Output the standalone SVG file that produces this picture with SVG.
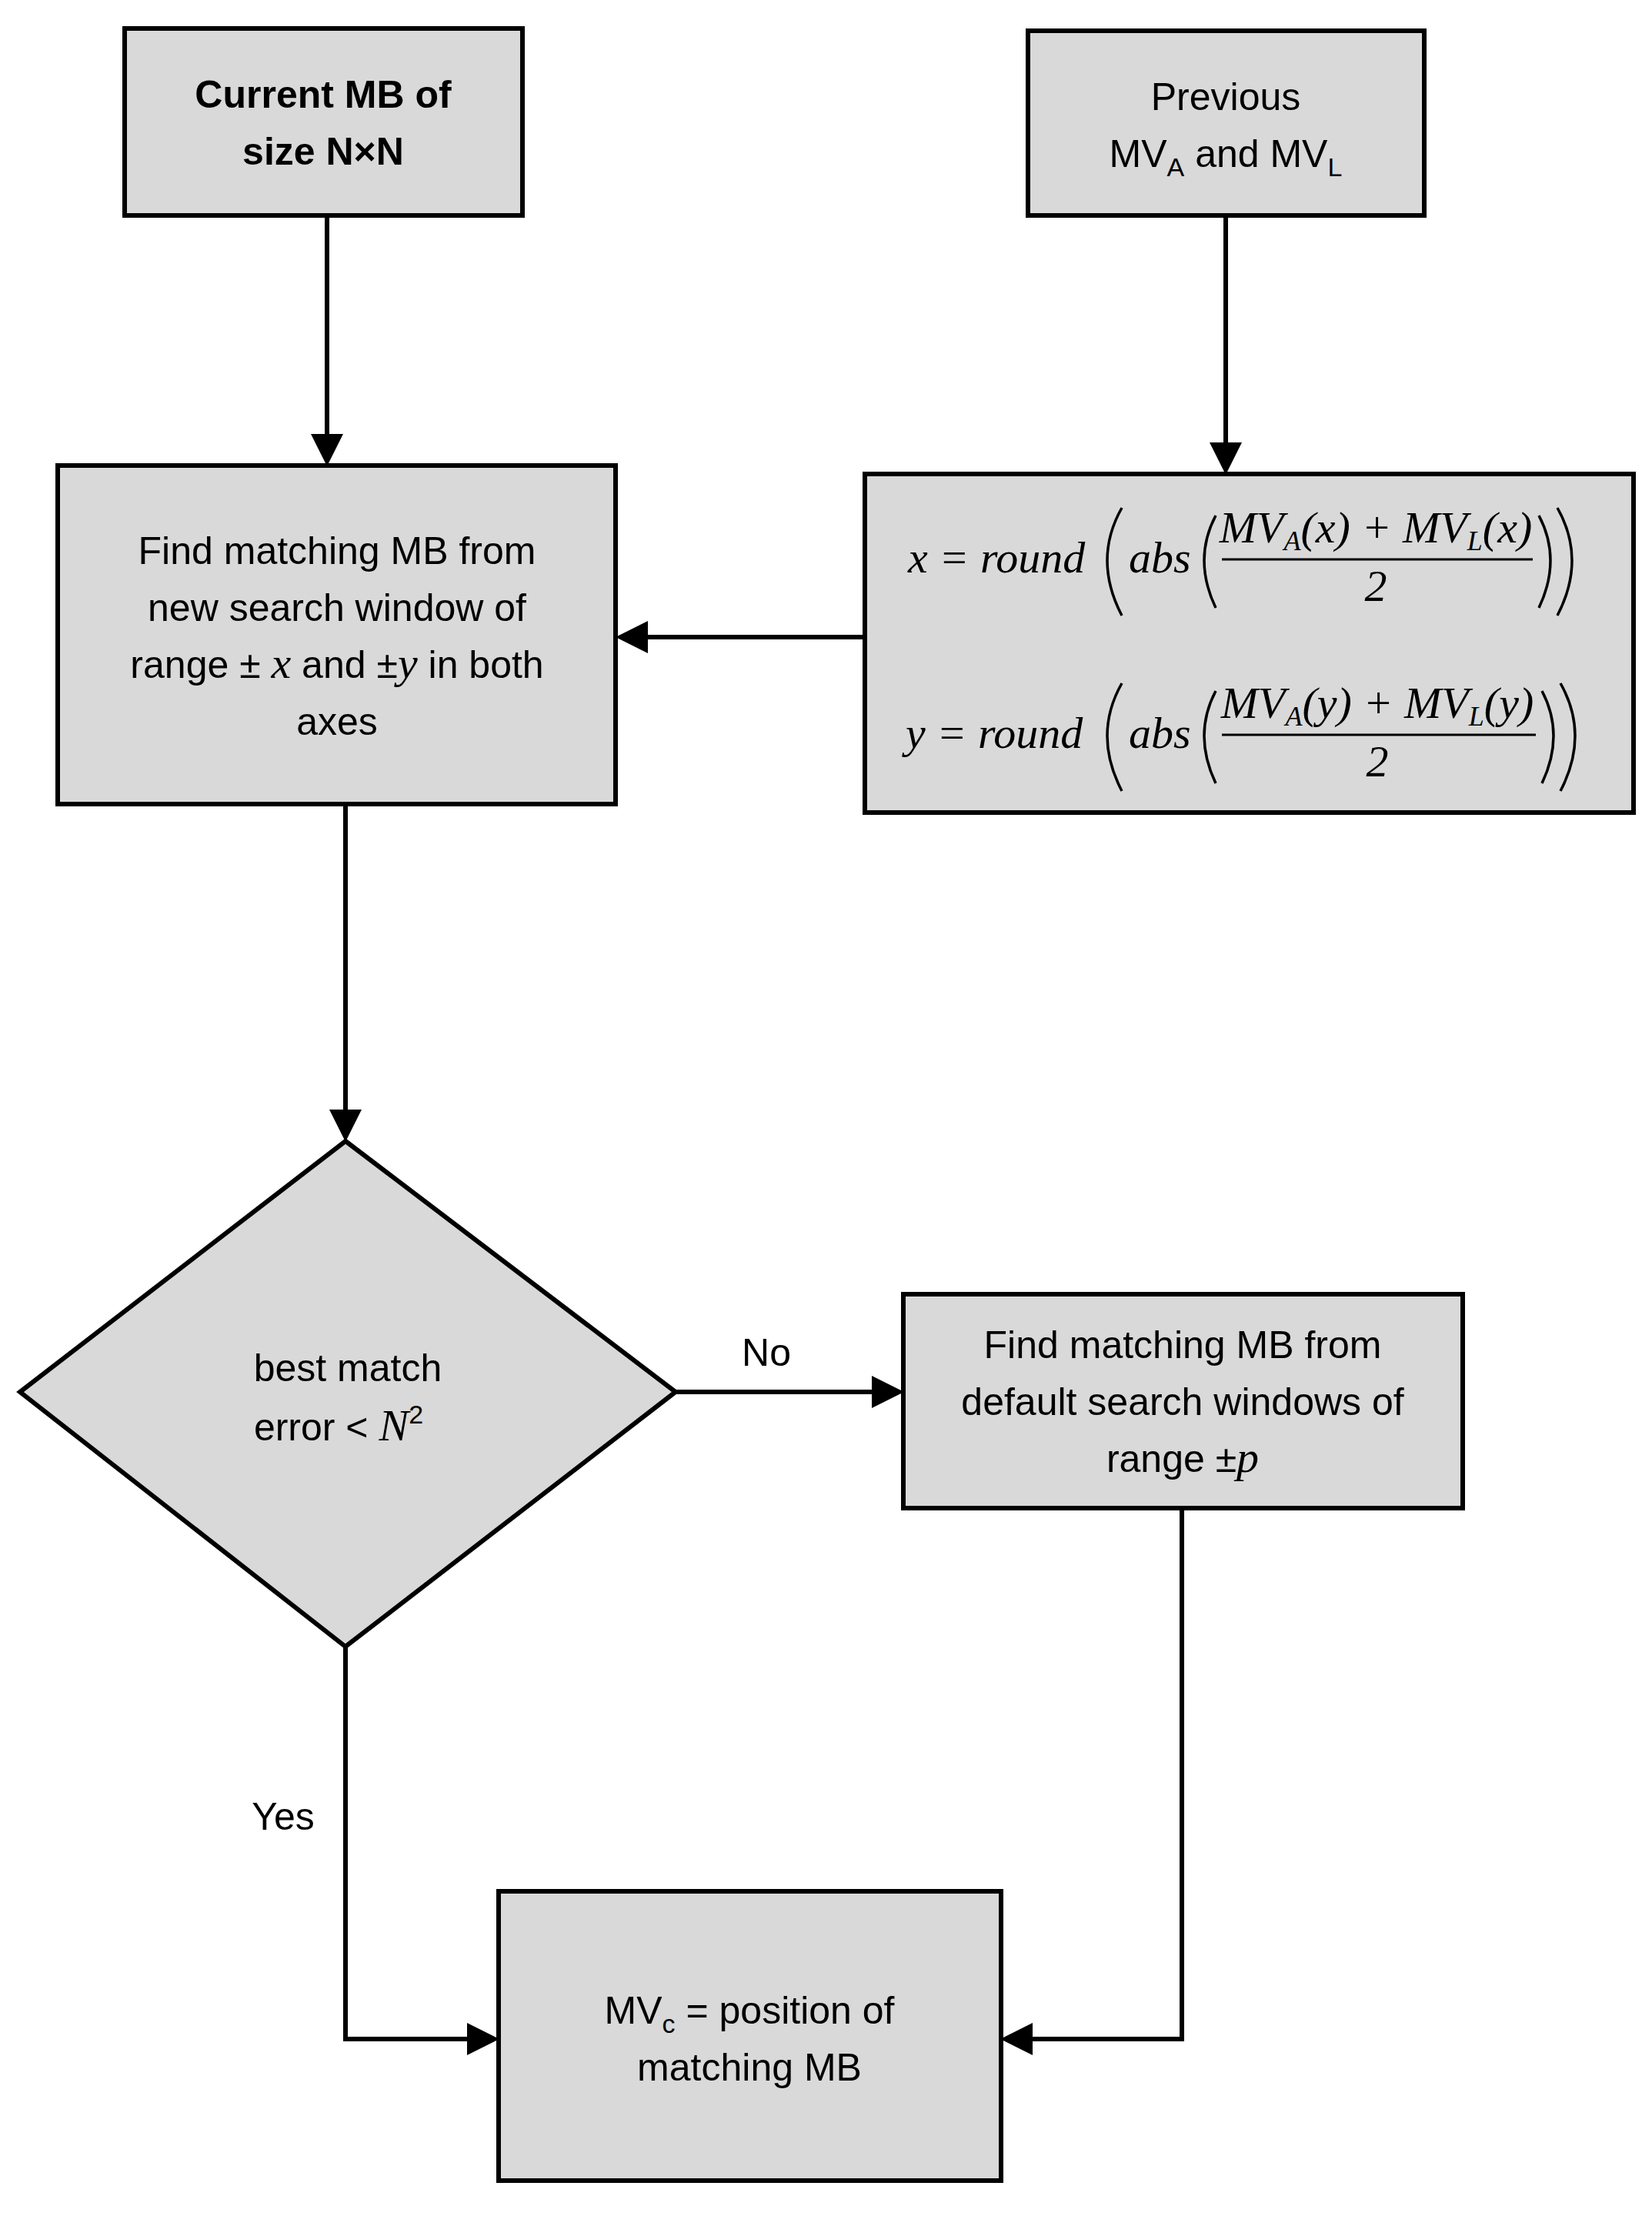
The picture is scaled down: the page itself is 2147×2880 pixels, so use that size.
<svg xmlns="http://www.w3.org/2000/svg" width="2147" height="2880" viewBox="0 0 2147 2880">
<style>
.n{fill:#d9d9d9;stroke:#000;stroke-width:6}
.t{font-family:"Liberation Sans",Arial,sans-serif;font-size:50px;text-anchor:middle;fill:#000}
.m{font-family:"Liberation Serif","Times New Roman",serif;font-style:italic;font-size:58px;fill:#000}
.c{fill:none;stroke:#000;stroke-width:6}
.p{fill:none;stroke:#000;stroke-width:3.5}
</style>
<defs><marker id="a" markerWidth="7" markerHeight="7" refX="6" refY="3.5" orient="auto" markerUnits="strokeWidth"><path d="M0,0L7,3.5L0,7z" fill="#000"/></marker></defs>
<rect width="2147" height="2880" fill="#fff"/>
<g id="connectors">
<path class="c" d="M425,280V600" marker-end="url(#a)"/>
<path class="c" d="M1593,280V611" marker-end="url(#a)"/>
<path class="c" d="M1124,828H806" marker-end="url(#a)"/>
<path class="c" d="M449,1045V1478" marker-end="url(#a)"/>
<path class="c" d="M878,1809H1169" marker-end="url(#a)"/>
<path class="c" d="M1536,1960V2650H1306" marker-end="url(#a)"/>
<path class="c" d="M449,2140V2650H643" marker-end="url(#a)"/>
<text class="t" x="996" y="1775">No</text>
<text class="t" x="368" y="2378">Yes</text>
</g>
<g id="n1"><rect class="n" x="162" y="37" width="517" height="243"/>
<text class="t" font-weight="bold" x="420" y="140">Current MB of</text><text class="t" font-weight="bold" x="420" y="214">size N×N</text></g>
<g id="n2"><rect class="n" x="1336" y="40" width="515" height="240"/>
<text class="t" x="1593" y="143">Previous</text><text class="t" x="1593" y="217">MV<tspan font-size="34" dy="12">A</tspan><tspan dy="-12"> and MV</tspan><tspan font-size="34" dy="12">L</tspan></text></g>
<g id="n3"><rect class="n" x="75" y="605" width="725" height="440"/>
<text class="t" x="438" y="733">Find matching MB from</text>
<text class="t" x="438" y="807">new search window of</text>
<text class="t" x="438" y="881">range ± <tspan class="m" font-size="54">x</tspan> and ±<tspan class="m" font-size="54">y</tspan> in both</text>
<text class="t" x="438" y="955">axes</text></g>
<g id="n4"><rect class="n" x="1124" y="616" width="999" height="440"/>
<g id="f1">
<text class="m" x="1180" y="744">x = round</text>
<path class="p" d="M1458,660Q1420,727 1458,800"/>
<text class="m" x="1467" y="744">abs</text>
<path class="p" d="M1580,670Q1550,727 1580,790"/>
<text class="m" x="1788" y="705" text-anchor="middle">MV<tspan font-size="36" dy="10">A</tspan><tspan dy="-10">(x) + MV</tspan><tspan font-size="36" dy="10">L</tspan><tspan dy="-10">(x)</tspan></text>
<line x1="1588" y1="727" x2="1992" y2="727" stroke="#000" stroke-width="3"/>
<text class="m" x="1788" y="781" text-anchor="middle" font-style="normal">2</text>
<path class="p" d="M2000,670Q2030,727 2000,790"/>
<path class="p" d="M2024,660Q2062,727 2024,800"/>
</g>
<g id="f2" transform="translate(0,228)">
<text class="m" x="1177" y="744">y = round</text>
<path class="p" d="M1458,660Q1420,727 1458,800"/>
<text class="m" x="1467" y="744">abs</text>
<path class="p" d="M1580,670Q1550,727 1580,790"/>
<text class="m" x="1790" y="705" text-anchor="middle">MV<tspan font-size="36" dy="10">A</tspan><tspan dy="-10">(y) + MV</tspan><tspan font-size="36" dy="10">L</tspan><tspan dy="-10">(y)</tspan></text>
<line x1="1588" y1="727" x2="1996" y2="727" stroke="#000" stroke-width="3"/>
<text class="m" x="1790" y="781" text-anchor="middle" font-style="normal">2</text>
<path class="p" d="M2004,670Q2034,727 2004,790"/>
<path class="p" d="M2028,660Q2066,727 2028,800"/>
</g></g>
<g id="n5"><path class="n" d="M449,1483L878,1809L449,2140L26,1809z"/>
<text class="t" x="452" y="1795">best match</text>
<text class="t" x="440" y="1872">error &lt; <tspan class="m" font-size="56">N</tspan><tspan font-size="34" dy="-22">2</tspan></text></g>
<g id="n6"><rect class="n" x="1174" y="1682" width="727" height="278"/>
<text class="t" x="1537" y="1765">Find matching MB from</text>
<text class="t" x="1537" y="1839">default search windows of</text>
<text class="t" x="1537" y="1913">range ±<tspan class="m" font-size="56">p</tspan></text></g>
<g id="n7"><rect class="n" x="648" y="2458" width="653" height="376"/>
<text class="t" x="974" y="2630">MV<tspan font-size="34" dy="12">c</tspan><tspan dy="-12"> = position of</tspan></text>
<text class="t" x="974" y="2704">matching MB</text></g>
</svg>
